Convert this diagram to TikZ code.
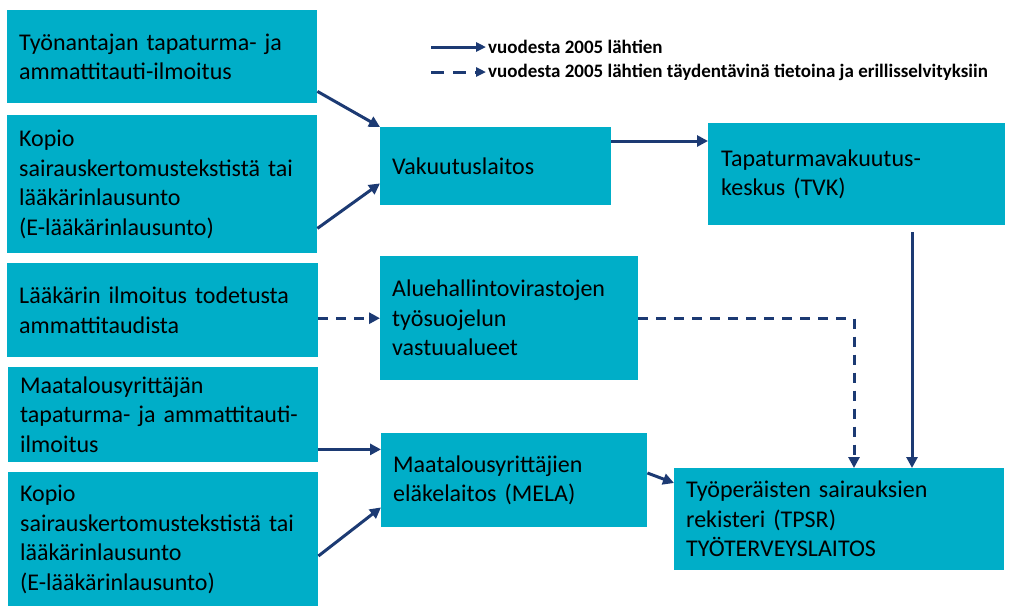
\documentclass[tikz,border=0pt]{standalone}
\usepackage{fontspec}
\setmainfont{Carlito}
\usetikzlibrary{arrows.meta}
\definecolor{boxteal}{RGB}{0,174,200}
\definecolor{arrownavy}{RGB}{28,58,115}
\begin{document}
\begin{tikzpicture}[
    x=1pt,
    y=-1pt,
    box/.style={
        fill=boxteal,
        anchor=north west,
        align=left,
        inner xsep=12pt,
        inner ysep=0pt,
        font=\fontsize{24}{29.5}\selectfont
    },
    arrow/.style={
        -{Triangle[length=11pt,width=11pt]},
        line width=3pt,
        draw=arrownavy
    },
    dasharrow/.style={
        arrow,
        dash pattern=on 10pt off 8pt
    },
    legarrow/.style={
        -{Triangle[length=10pt,width=9pt]},
        line width=3pt,
        draw=arrownavy
    },
    legend/.style={
        anchor=west,
        inner sep=0pt,
        font=\bfseries\fontsize{19}{21}\selectfont
    }
]
\useasboundingbox (0,0) rectangle (1014,606);

% Sources
\node [box, minimum width=310pt, text width=286pt, minimum height=93pt] (ilmoitus) at (7,10)
    {\mbox{Työnantajan tapaturma- ja}\\ammattitauti-ilmoitus};
\node [box, minimum width=310pt, text width=286pt, minimum height=138pt] (kopio) at (7,115)
    {Kopio\\\mbox{sairauskertomustekstistä tai}\\lääkärinlausunto\\(E-lääkärinlausunto)};
\node [box, minimum width=311pt, text width=287pt, minimum height=94pt] (laakari) at (7,263)
    {\mbox{Lääkärin ilmoitus todetusta}\\ammattitaudista};
\node [box, minimum width=310pt, text width=286pt, minimum height=95pt] (maatila) at (8,367)
    {Maatalousyrittäjän\\\mbox{tapaturma- ja ammattitauti-}\\ilmoitus};
\node [box, minimum width=310pt, text width=286pt, minimum height=134pt] (kopiomela) at (8,472)
    {Kopio\\\mbox{sairauskertomustekstistä tai}\\lääkärinlausunto\\(E-lääkärinlausunto)};

% Receivers
\node [box, minimum width=231pt, text width=207pt, minimum height=78pt] (vakuutus) at (380,127)
    {Vakuutuslaitos};
\node [box, minimum width=258pt, text width=234pt, minimum height=124pt] (avi) at (380,256)
    {Aluehallintovirastojen\\työsuojelun\\vastuualueet};
\node [box, minimum width=266pt, text width=242pt, minimum height=94pt] (mela) at (381,433)
    {Maatalousyrittäjien\\eläkelaitos (MELA)};
\node [box, minimum width=297pt, text width=271pt, minimum height=102pt, inner xsep=13pt] (tvk) at (708,123)
    {Tapaturmavakuutus-\\keskus (TVK)};
\node [box, minimum width=330pt, text width=306pt, minimum height=102pt] (tpsr) at (674,468)
    {\mbox{Työperäisten sairauksien}\\rekisteri (TPSR)\\TYÖTERVEYSLAITOS};

% Legend
\coordinate (solidstart) at (431,47);
\coordinate (dashstart) at (431,72);
\node [legend] (solidtext) at (488,47) {vuodesta 2005 lähtien};
\node [legend] (dashtext) at (488,72) {vuodesta 2005 lähtien täydentävinä tietoina ja erillisselvityksiin};
\draw [legarrow, shorten >=2pt] (solidstart) -- (solidtext.west);
\draw [legarrow, shorten >=2pt, dash pattern=on 13pt off 9pt] (dashstart) -- (dashtext.west);

% Flows
\draw [arrow] ([yshift=12pt]ilmoitus.south east) -- (vakuutus.north west);
\draw [arrow] ([yshift=25pt]kopio.south east) -- ([yshift=22pt]vakuutus.south west);
\coordinate (vakout) at ([yshift=-14pt]vakuutus.north east);
\draw [arrow] (vakout) -- (vakout -| tvk.west);
\coordinate (tvkout) at ([xshift=204pt]tvk.south west);
\draw [arrow, shorten <=7pt] (tvkout) -- (tvkout |- tpsr.north);
\draw [dasharrow] (laakari.east |- avi.west) -- (avi.west);
\draw [dasharrow] (avi.east) -| ([xshift=180pt]tpsr.north west);
\coordinate (maatilaout) at ([yshift=13pt]maatila.south east);
\draw [arrow] (maatilaout) -- (maatilaout -| mela.west);
\draw [arrow] ([yshift=-84pt]kopiomela.north east) -- ([yshift=20pt]mela.south west);
\draw [arrow] ([yshift=-40pt]mela.north east) -- ([yshift=-15pt]tpsr.north west);

\end{tikzpicture}
\end{document}
